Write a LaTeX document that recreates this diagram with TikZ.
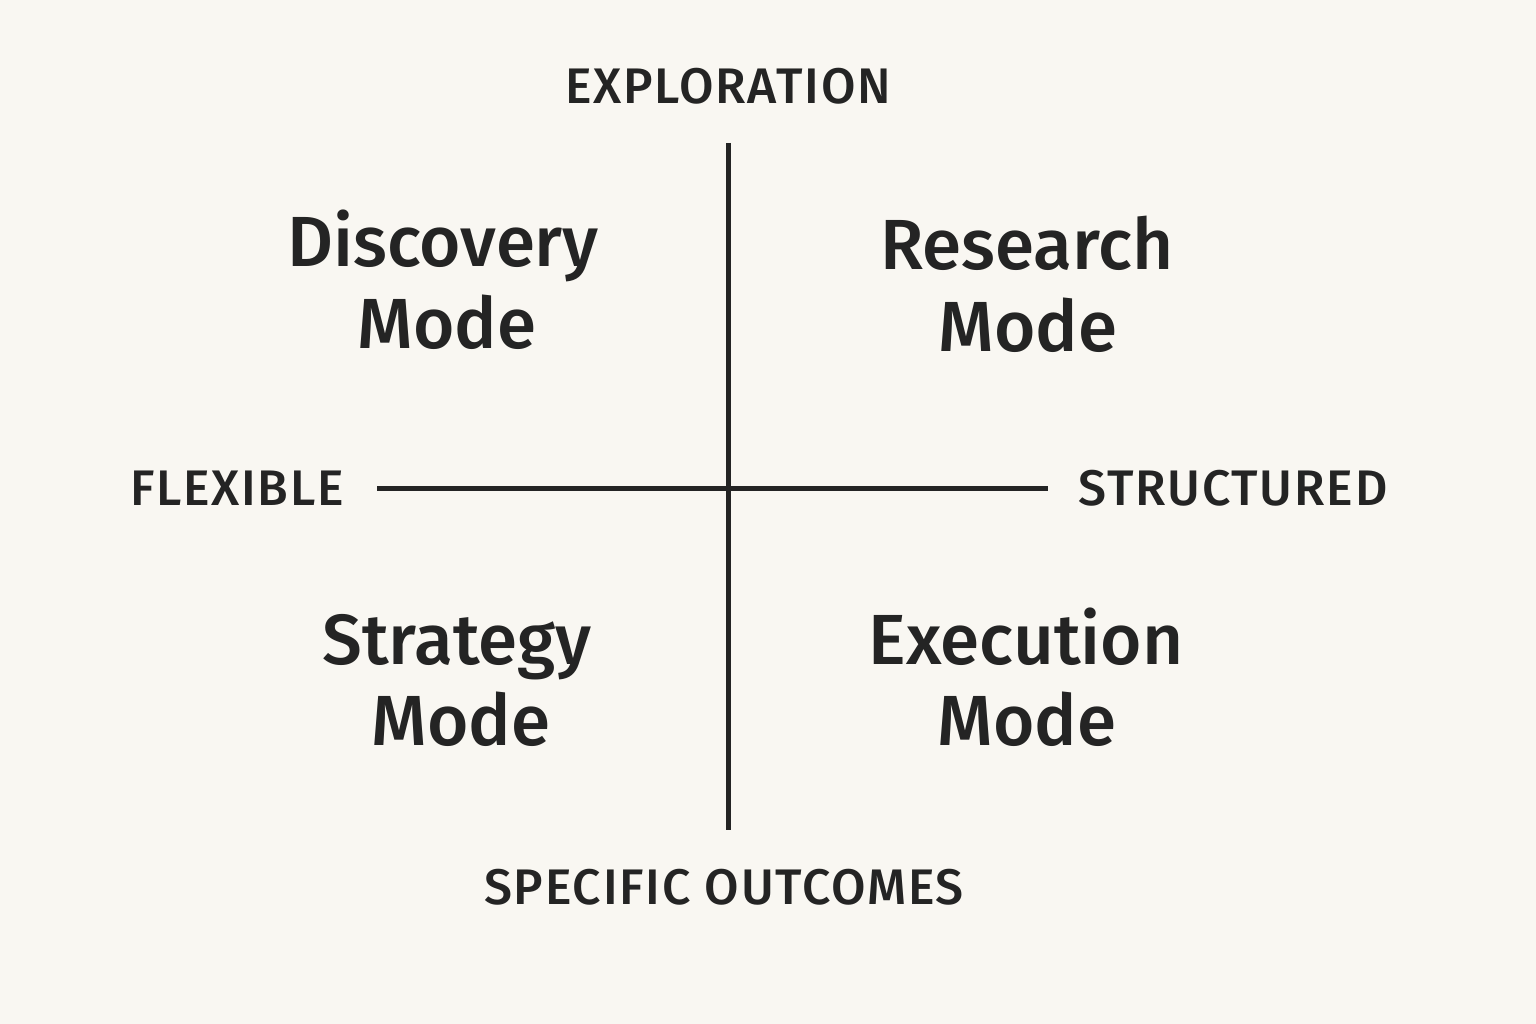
\documentclass[tikz,border=0pt]{standalone}
\usepackage{fontspec}
\setmainfont{Fira Sans}[UprightFont=* Medium, BoldFont=* SemiBold]
\newfontfamily\labfont{Fira Sans}[UprightFont=* Medium, LetterSpace=3.5]
\definecolor{bg}{HTML}{F9F7F2}
\definecolor{ink}{HTML}{242424}
\begin{document}
\begin{tikzpicture}[x=1pt,y=-1pt,
  axis/.style={draw=ink,line width=5pt},
  lab/.style={text=ink,font=\labfont\fontsize{50}{58}\selectfont,inner sep=0pt},
  mode/.style={text=ink,font=\fontsize{71}{80}\selectfont,inner sep=0pt,anchor=base}]
\fill[bg] (0,0) rectangle (1536,1024);
\useasboundingbox (0,0) rectangle (1536,1024);
\coordinate (top) at (728,143);
\coordinate (bot) at (728,830);
\coordinate (lft) at (377,488);
\coordinate (rgt) at (1048,488);
\draw[axis] (top) -- (bot);
\draw[axis] (lft) -- (rgt);
\node[lab] (explo) at (728,86) {EXPLORATION};
\node[lab] (spec) at (724,887) {SPECIFIC OUTCOMES};
\node[lab] (flex) at (237,488) {FLEXIBLE};
\node[lab] (struc) at (1233,488) {STRUCTURED};
\node[mode] (disc1) at (443,267) {Discovery};
\node[mode] (disc2) at (447,348) {Mode};
\node[mode] (res1) at (1027,270) {Research};
\node[mode] (res2) at (1028,351) {Mode};
\node[mode] (str1) at (457,664) {Strategy};
\node[mode] (str2) at (461,745) {Mode};
\node[mode] (exe1) at (1026,664) {Execution};
\node[mode] (exe2) at (1027,745) {Mode};
\end{tikzpicture}
\end{document}
